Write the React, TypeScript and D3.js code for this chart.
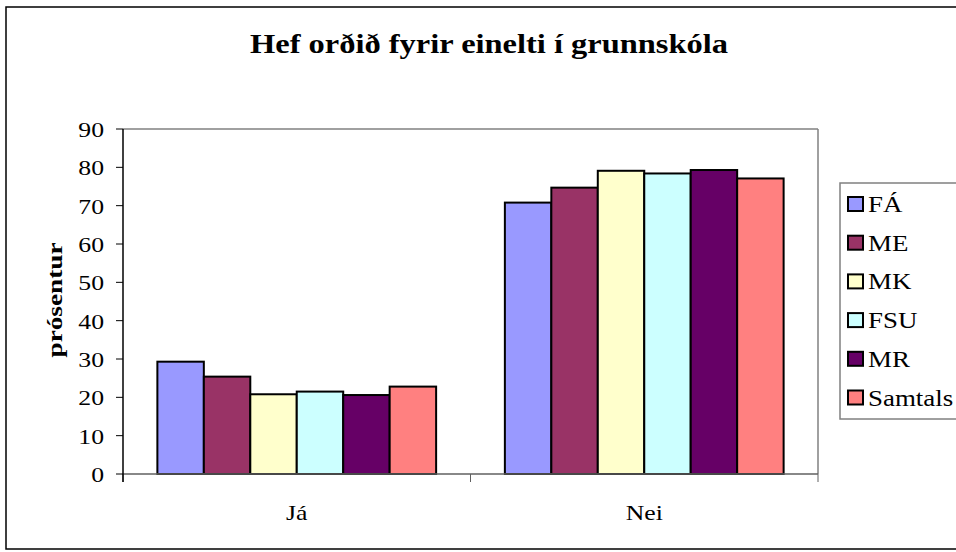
import React from 'react'
import * as d3 from 'd3'

const categories = ['Já', 'Nei']
const seriesNames = ['FÁ', 'ME', 'MK', 'FSU', 'MR', 'Samtals']
const seriesColors = ['#9999FF', '#993366', '#FFFFCC', '#CCFFFF', '#660066', '#FF8080']
const jaValues = [29.3, 25.4, 20.8, 21.5, 20.6, 22.8]
const neiValues = [70.8, 74.7, 79.1, 78.4, 79.3, 77.1]
const yTicks = [0, 10, 20, 30, 40, 50, 60, 70, 80, 90]

const valuesByCategory = [jaValues, neiValues]

const W = 956
const H = 552
const plot = { left: 123, right: 818, top: 129, bottom: 474 }
const font = '"Liberation Serif", "Times New Roman", serif'
// the original text looks a bit wider than plain Times, stretch it a little
const sx = 1.17

export default function App() {
  const x = d3.scaleBand().domain(categories).range([plot.left, plot.right])
  const inner = d3
    .scaleBand()
    .domain(seriesNames)
    .range([0, x.bandwidth()])
    .paddingOuter(0.74)
    .paddingInner(0)
  const y = d3.scaleLinear().domain([0, 90]).range([plot.bottom, plot.top])

  const bounds = [plot.left, ...categories.map(c => (x(c) as number) + x.bandwidth())]

  return (
    <svg width={W} height={H} style={{ position: 'absolute', left: 0, top: 0 }}>
      <rect x={0} y={0} width={W} height={H} fill="#fff" />
      <rect x={6} y={7} width={W + 10} height={542} fill="none" stroke="#000" strokeWidth={1.5} />

      <text
        x={489}
        y={53}
        textAnchor="middle"
        fontFamily={font}
        fontWeight="bold"
        fontSize={28}
        textLength={478}
        lengthAdjust="spacingAndGlyphs"
      >
        Hef orðið fyrir einelti í grunnskóla
      </text>

      {/* plot frame */}
      <line x1={plot.left} y1={plot.top} x2={plot.right} y2={plot.top} stroke="#808080" strokeWidth={1.5} />
      <line x1={plot.right} y1={plot.top} x2={plot.right} y2={plot.bottom} stroke="#808080" strokeWidth={1.5} />

      {/* bars */}
      {categories.map((c, ci) =>
        seriesNames.map((s, si) => (
          <rect
            key={c + s}
            x={(x(c) as number) + (inner(s) as number)}
            y={y(valuesByCategory[ci][si])}
            width={inner.bandwidth()}
            height={y(0) - y(valuesByCategory[ci][si])}
            fill={seriesColors[si]}
            stroke="#000"
            strokeWidth={2}
          />
        ))
      )}

      {/* x axis */}
      <line x1={plot.left} y1={plot.bottom} x2={plot.right} y2={plot.bottom} stroke="#606060" strokeWidth={1.5} />
      {bounds.map((b, i) => (
        <line key={i} x1={b} y1={plot.bottom} x2={b} y2={plot.bottom + 8} stroke="#606060" strokeWidth={1} />
      ))}
      {categories.map(c => (
        <text
          key={c}
          transform={`translate(${(x(c) as number) + x.bandwidth() / 2},520) scale(${sx},1)`}
          textAnchor="middle"
          fontFamily={font}
          fontSize={22}
        >
          {c}
        </text>
      ))}

      {/* y axis */}
      <line x1={plot.left} y1={plot.top} x2={plot.left} y2={plot.bottom + 8} stroke="#000" strokeWidth={1.5} />
      {yTicks.map(t => (
        <g key={t}>
          <line x1={plot.left - 7} y1={y(t)} x2={plot.left} y2={y(t)} stroke="#000" strokeWidth={1} />
          <text
            transform={`translate(104,${y(t) + 8}) scale(${sx},1)`}
            textAnchor="end"
            fontFamily={font}
            fontSize={22}
          >
            {t}
          </text>
        </g>
      ))}
      <text
        transform={`translate(62,300) rotate(-90)`}
        textAnchor="middle"
        fontFamily={font}
        fontWeight="bold"
        fontSize={22}
        textLength={115}
        lengthAdjust="spacingAndGlyphs"
      >
        prósentur
      </text>

      {/* legend */}
      <rect x={840} y={183} width={W + 10 - 840} height={236} fill="#fff" stroke="#808080" strokeWidth={1.5} />
      {seriesNames.map((s, i) => {
        const cy = 204 + i * 38.7
        return (
          <g key={s}>
            <rect x={848} y={cy - 7} width={15} height={14} fill={seriesColors[i]} stroke="#000" strokeWidth={2} />
            <text
              transform={`translate(868,${cy + 8}) scale(${sx},1)`}
              fontFamily={font}
              fontSize={23}
            >
              {s}
            </text>
          </g>
        )
      })}
    </svg>
  )
}
